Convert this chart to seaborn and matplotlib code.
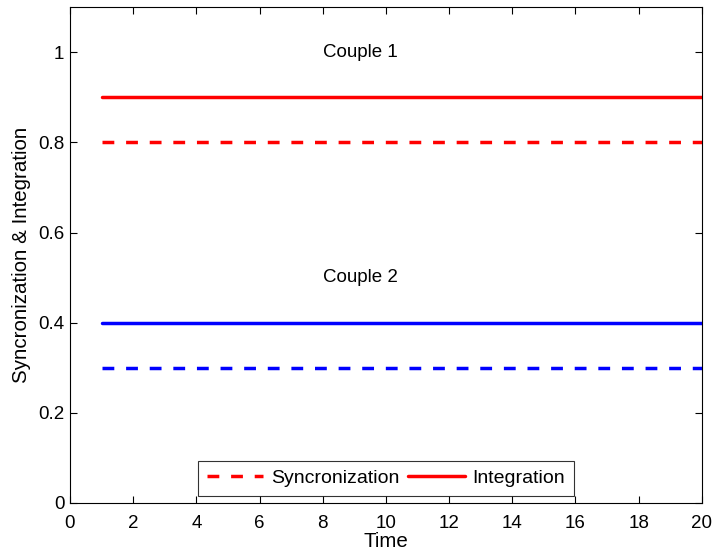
import matplotlib
matplotlib.use("Agg")
import matplotlib.pyplot as plt
import seaborn as sns
import pandas as pd
from matplotlib.lines import Line2D

time = [1, 20]
sync_c1 = [0.8, 0.8]
integ_c1 = [0.9, 0.9]
sync_c2 = [0.3, 0.3]
integ_c2 = [0.4, 0.4]
xticks = [0, 2, 4, 6, 8, 10, 12, 14, 16, 18, 20]
yticks = [0, 0.2, 0.4, 0.6, 0.8, 1.0]
ytick_labels = ["0", "0.2", "0.4", "0.6", "0.8", "1"]

sns.set_theme(style="ticks")
plt.rcParams['font.family'] = ['Liberation Sans', 'DejaVu Sans']
plt.rcParams['text.color'] = 'black'
plt.rcParams['axes.labelcolor'] = 'black'

FS = 13.5
LFS = 14.8
fig = plt.figure(figsize=(7.14, 5.52), dpi=100)
ax = fig.add_axes([0.098, 0.0888, 0.885, 0.898])

lw = 2.5
dash = (3.4, 3.4)
series = [
    (sync_c1, "red", True),
    (integ_c1, "red", False),
    (sync_c2, "blue", True),
    (integ_c2, "blue", False),
]
for vals, col, dashed in series:
    df = pd.DataFrame({"Time": time, "v": vals})
    line_ax = sns.lineplot(data=df, x="Time", y="v", ax=ax, color=col, linewidth=lw)
    if dashed:
        line_ax.lines[-1].set_dashes(dash)

ax.text(8, 1.0, "Couple 1", fontsize=FS, va="center", ha="left", color="black")
ax.text(8, 0.5, "Couple 2", fontsize=FS, va="center", ha="left", color="black")

ax.set_xlim(0, 20)
ax.set_ylim(0, 1.1)
ax.set_xticks(xticks)
ax.set_xticklabels([str(t) for t in xticks])
ax.set_yticks(yticks)
ax.set_yticklabels(ytick_labels)
ax.tick_params(direction="in", top=True, right=True, labelsize=FS, length=5, width=0.8, colors="black")
ax.tick_params(axis="x", pad=9)
ax.tick_params(axis="y", pad=4)
for s in ax.spines.values():
    s.set_visible(True)
    s.set_linewidth(0.8)
    s.set_color("black")
ax.set_xlabel("Time", fontsize=LFS, labelpad=0)
ax.set_ylabel("Syncronization & Integration", fontsize=LFS, labelpad=5)

handles = [
    Line2D([0], [0], color="red", linewidth=lw, dashes=dash),
    Line2D([0], [0], color="red", linewidth=lw),
]
leg = ax.legend(handles, ["Syncronization", "Integration"], loc="lower center",
                ncol=2, fontsize=14, frameon=True, fancybox=False,
                edgecolor="black", handlelength=2.9, columnspacing=0.45,
                handletextpad=0.4, borderaxespad=0.36, borderpad=0.45)
leg.get_frame().set_linewidth(0.8)
for t in leg.get_texts():
    t.set_color("black")

fig.savefig("out.png", dpi=100, facecolor="white")
